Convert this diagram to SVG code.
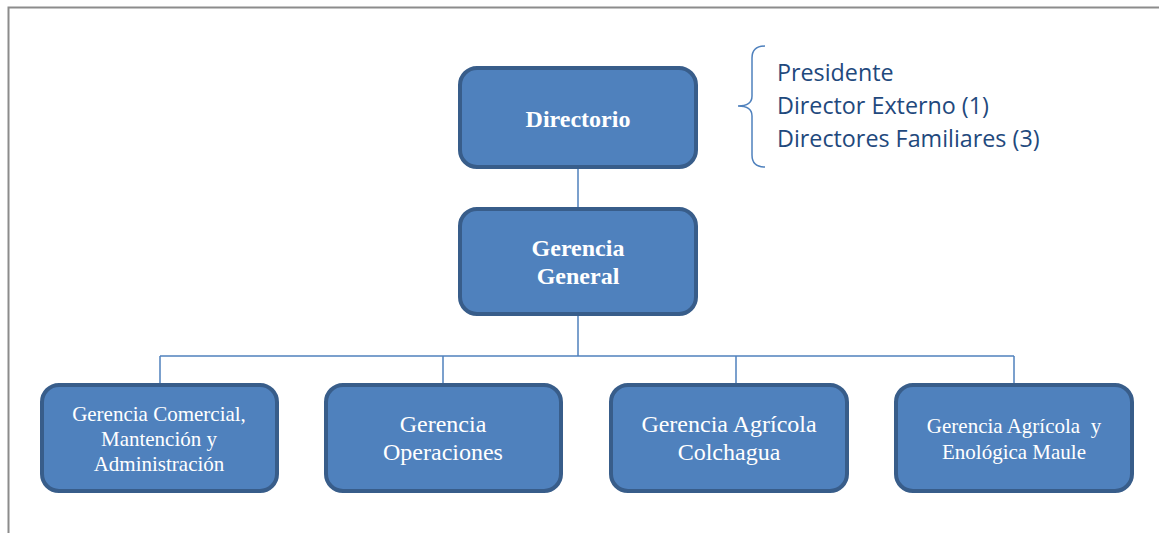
<svg xmlns="http://www.w3.org/2000/svg" width="1159" height="533" viewBox="0 0 1159 533">
  <style>
    .node { fill: #4f81bd; stroke: #385d8a; stroke-width: 4; }
    .lbl { font-family: "Liberation Serif", "Times New Roman", serif; fill: #ffffff; text-anchor: middle; }
    .bold { font-weight: bold; font-size: 24px; }
    .big { font-size: 24px; }
    .mid { font-size: 21px; }
    .conn { stroke: #4f81bd; stroke-width: 1.5; fill: none; }
    .note { font-family: "Open Sans", "Liberation Sans", sans-serif; font-size: 23.3px; fill: #1f497d; }
  </style>
  <rect width="1159" height="533" fill="#ffffff"/>
  <!-- frame -->
  <path d="M8.5 533 V7.5 H1159" fill="none" stroke="#8c8c8c" stroke-width="2"/>

  <g id="connectors">
    <line class="conn" x1="578" y1="167" x2="578" y2="208"/>
    <line class="conn" x1="578" y1="314" x2="578" y2="356"/>
    <line class="conn" x1="160" y1="356" x2="1014" y2="356"/>
    <line class="conn" x1="160" y1="356" x2="160" y2="384"/>
    <line class="conn" x1="443" y1="356" x2="443" y2="384"/>
    <line class="conn" x1="736" y1="356" x2="736" y2="384"/>
    <line class="conn" x1="1014" y1="356" x2="1014" y2="384"/>
  </g>

  <g id="directorio">
    <rect class="node" x="460" y="68" width="236" height="99" rx="17"/>
    <text class="lbl bold" x="578" y="127">Directorio</text>
  </g>

  <g id="gerencia-general">
    <rect class="node" x="460" y="209" width="236" height="105" rx="17"/>
    <text class="lbl bold" x="578" y="256">Gerencia</text>
    <text class="lbl bold" x="578" y="284">General</text>
  </g>

  <g id="gerencia-comercial">
    <rect class="node" x="42" y="385" width="235" height="106" rx="17"/>
    <text class="lbl mid" x="159" y="421">Gerencia Comercial,</text>
    <text class="lbl mid" x="159" y="446">Mantención y</text>
    <text class="lbl mid" x="159" y="471">Administración</text>
  </g>

  <g id="gerencia-operaciones">
    <rect class="node" x="326" y="385" width="235" height="106" rx="17"/>
    <text class="lbl big" x="443" y="432">Gerencia</text>
    <text class="lbl big" x="443" y="460">Operaciones</text>
  </g>

  <g id="gerencia-colchagua">
    <rect class="node" x="611" y="385" width="236" height="106" rx="17"/>
    <text class="lbl big" x="729" y="432">Gerencia Agrícola</text>
    <text class="lbl big" x="729" y="460">Colchagua</text>
  </g>

  <g id="gerencia-maule">
    <rect class="node" x="896" y="385" width="236" height="106" rx="17"/>
    <text class="lbl mid" x="1014" y="433" xml:space="preserve">Gerencia Agrícola  y</text>
    <text class="lbl mid" x="1014" y="459">Enológica Maule</text>
  </g>

  <g id="directorio-members">
    <path d="M765 46 Q752 46 752 58 V96 Q752 106 738 106 Q752 106 752 116 V155 Q752 167 765 167" fill="none" stroke="#4f81bd" stroke-width="1.5"/>
    <text class="note" x="777" y="81">Presidente</text>
    <text class="note" x="777" y="114">Director Externo (1)</text>
    <text class="note" x="777" y="147">Directores Familiares (3)</text>
  </g>
</svg>
